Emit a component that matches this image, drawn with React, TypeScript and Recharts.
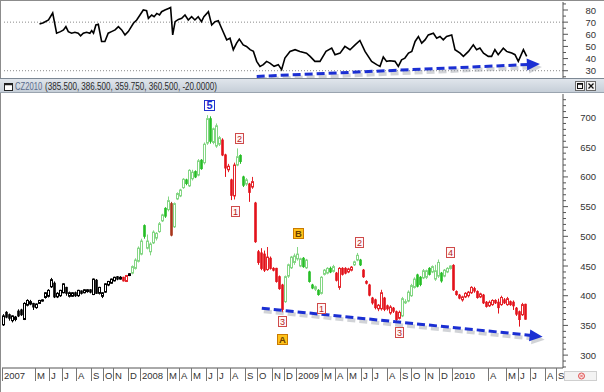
import React from 'react';
import {
  ComposedChart,
  LineChart,
  Line,
  Bar,
  XAxis,
  YAxis,
  ReferenceLine,
  ReferenceDot,
} from 'recharts';

const FONT = '"Liberation Sans", Arial, sans-serif';
const AXIS_X = 563;

// weekly candles of CZ2010, week 0 = mid Feb 2007
const OPEN = [
  351, 372, 368, 358, 360, 374, 376, 360, 384, 386, 387, 380, 387, 391, 397, 399, 415, 421, 398, 400,
  405, 414, 399, 399, 405, 400, 408, 405, 407, 410, 402, 426, 404, 399, 406, 418, 421, 425, 432, 428,
  431, 424, 434, 438, 446, 458, 470, 518, 480, 474, 489, 497, 508, 526, 547, 545, 555, 516, 563, 568,
  582, 595, 585, 597, 609, 603, 628, 624, 657, 698, 658, 652, 655, 662, 637, 612, 595, 568, 620, 636,
  600, 588, 588, 583, 556, 474, 472, 470, 444, 463, 446, 446, 432, 418, 390, 433, 447, 456, 462, 450,
  463, 447, 440, 418, 411, 409, 404, 436, 438, 446, 441, 438, 414, 446, 446, 440, 443, 452, 460, 460,
  443, 424, 418, 396, 393, 378, 378, 396, 383, 371, 379, 373, 362, 366, 388, 391, 400, 414, 435, 431,
  430, 431, 446, 440, 428, 433, 438, 433, 440, 446, 451, 407, 401, 393, 398, 400, 405, 412, 407, 398,
  401, 389, 383, 385, 392, 389, 385, 393, 385, 390, 389, 379, 373, 368, 385.5,
];
const HIGH = [
  369, 374, 370, 367, 366, 377, 378, 389, 394, 393, 388, 387, 393, 394, 406, 411, 430, 424, 406, 410,
  421, 415, 407, 406, 407, 410, 409, 411, 411, 411, 429, 428, 415, 406, 421, 425, 429, 432, 433, 433,
  432, 435, 438, 451, 463, 483, 496, 520, 503, 490, 510, 507, 524, 538, 549, 567, 558, 557, 574, 580,
  598, 597, 613, 612, 611, 630, 630, 658, 704, 702, 683, 690, 669, 665, 639, 622, 597, 624, 648, 638,
  602, 598, 590, 600, 558, 477, 480, 476, 482, 466, 448, 447, 434, 420, 434, 454, 467, 471, 482, 464,
  465, 462, 442, 420, 417, 411, 433, 445, 448, 449, 452, 440, 448, 448, 448, 447, 450, 459, 472, 462,
  445, 426, 420, 398, 395, 386, 410, 398, 385, 384, 381, 375, 375, 398, 394, 409, 420, 431, 437, 433,
  445, 444, 448, 451, 452, 461, 440, 445, 448, 451, 453, 409, 403, 400, 406, 408, 416, 415, 409, 405,
  403, 391, 392, 394, 394, 395, 400, 396, 398, 392, 392, 381, 375, 388, 386.5,
];
const LOW = [
  349, 362, 358, 355, 357, 364, 366, 359, 382, 384, 376, 378, 386, 390, 395, 397, 413, 396, 396, 398,
  404, 400, 397, 398, 398, 398, 402, 404, 405, 404, 401, 403, 402, 396, 405, 416, 420, 424, 426, 427,
  424, 423, 433, 436, 444, 456, 468, 496, 478, 468, 487, 493, 506, 524, 531, 542, 500, 514, 561, 566,
  580, 586, 583, 594, 598, 601, 612, 621, 654, 656, 655, 649, 652, 635, 600, 608, 561, 562, 618, 622,
  583, 585, 558, 580, 489, 452, 443, 440, 442, 444, 441, 422, 410, 372, 388, 430, 445, 452, 459, 448,
  447, 445, 422, 411, 408, 400, 402, 434, 436, 438, 439, 424, 410, 434, 436, 438, 441, 450, 458, 450,
  430, 419, 399, 385, 377, 374, 375, 374, 375, 368, 371, 355, 360, 364, 386, 389, 398, 412, 414, 416,
  428, 428, 434, 438, 425, 430, 422, 431, 438, 444, 408, 400, 394, 390, 396, 397, 403, 405, 395, 396,
  386, 380, 381, 383, 386, 370, 383, 386, 383, 383, 376, 366, 348, 366, 359.75,
];
const CLOSE = [
  366, 364, 362, 366, 364, 366, 368, 387, 392, 390, 381, 386, 392, 393, 405, 409, 427, 398, 404, 409,
  420, 404, 405, 405, 400, 409, 404, 410, 410, 406, 428, 404, 414, 405, 420, 424, 428, 431, 428, 431,
  425, 434, 437, 449, 460, 480, 492, 500, 492, 487, 507, 505, 521, 536, 534, 560, 502, 555, 572, 578,
  596, 589, 611, 608, 600, 627, 614, 655, 698, 660, 681, 686, 666, 637, 615, 618, 569, 620, 634, 626,
  586, 595, 574, 592, 491, 456, 446, 443, 465, 446, 443, 424, 412, 377, 432, 452, 465, 467, 470, 462,
  449, 460, 424, 413, 415, 402, 431, 443, 446, 440, 449, 426, 446, 436, 438, 445, 448, 457, 468, 452,
  432, 421, 401, 388, 380, 384, 405, 377, 378, 381, 374, 360, 372, 395, 390, 406, 417, 428, 416, 419,
  442, 442, 436, 449, 442, 456, 425, 443, 446, 450, 410, 402, 396, 398, 404, 406, 414, 408, 397, 403,
  388, 382, 389, 392, 388, 380, 397, 388, 395, 385, 383, 369, 360, 385, 360.5,
];
// k = plain, r = down wave, g = up wave, d = dark red bar
const TREND =
  'kkkkkkkkkkkkkkkkkkkkkkkkkkkkkkkkkkkkkkkk' +
  'rrk' +
  'ggggggggggggg' +
  'd' +
  'gggggggggggggggg' +
  'rrrrr' +
  'gggg' +
  'rrrrrrrrrrrr' +
  'ggggggggggggggggg' +
  'rrrrrr' +
  'ggg' +
  'rrrrrrrrrrrrr' +
  'ggggggggggggggggg' +
  'rrrrrrrrrrrrrrrrrrrrrrrrr';

// oscillator in the upper pane
const IND_WEEK = [
  12, 13.3, 15, 16.4, 17.7, 19, 20, 20.8, 21.6, 22.7, 23.8, 24.9, 25.7, 26.6, 27.7, 28.8, 29.4, 30, 30.8, 31.6,
  32.7, 33.8, 34.9, 36, 37.2, 38.3, 39.4, 40.5, 41.6, 43.3, 44.4, 45.5, 46.6, 47.7, 48.3, 49.4, 50.2, 51.1, 52, 52.7,
  53.8, 55, 55.7, 56.4, 57.2, 58.3, 59.4, 60.5, 61.6, 62.7, 63.8, 64.9, 66, 66.8, 68.3, 69.4, 70.5, 71.6, 72.7, 74.4,
  75.5, 76.6, 77.7, 78.6, 79.9, 81, 82.2, 83.3, 84.4, 85.5, 86.6, 87.7, 88.8, 90.2, 91.6, 92.7, 93.8, 95.5, 97.2, 98.8,
  101, 102.2, 103.8, 105.5, 107.5, 109.4, 110.5, 112.2, 113.8, 115.5, 117.2, 118.8, 120.5, 122.7, 124.4, 125.5, 126.6, 127.7, 128.8, 130.5,
  131.6, 132.7, 133.8, 135, 136.1, 137.2, 138.3, 139.4, 140.5, 141.6, 143.3, 144.4, 145.5, 146.6, 147.7, 149.4, 150.5, 152.2, 153.3, 155,
  156.6, 157.7, 158.8, 160, 161.6, 162.7, 163.8, 164.9, 166.6, 167.7, 169.4, 170.5, 171.6, 173.3, 174.4,
];
const IND_VALUE = [
  68.5, 69.6, 71.8, 77.5, 60.9, 62.2, 63.6, 66.3, 62.2, 60.9, 61.7, 60.9, 58.7, 60.9, 61.7, 60.9, 63, 60.9, 67.7, 68.2,
  54.1, 54.1, 60.9, 62.2, 63.6, 66.3, 63.6, 59.5, 62.2, 69.1, 71.8, 75.9, 80, 79.4, 73.1, 75.9, 74.5, 77.2, 75.9, 78.6,
  80, 81.3, 82.1, 59.5, 70.4, 72.3, 73.1, 75.9, 71.8, 74.5, 71.8, 74.5, 70.4, 74.5, 78.6, 67.7, 70.4, 71.2, 65, 55.4,
  56.8, 47.3, 52.7, 56, 51.3, 50, 47.3, 45.9, 37.7, 33.6, 35, 37.7, 36.3, 33.6, 35, 30.9, 40.4, 45.9, 47.3, 45.9,
  44.5, 41.8, 37.7, 37.7, 45.9, 48.6, 43.2, 44.5, 50, 47.3, 51.3, 54.9, 45.9, 37.7, 35, 33.6, 41.3, 37.7, 38.2, 37.7,
  33.6, 39, 40.4, 44.5, 45.9, 54.1, 58.2, 52.7, 55.4, 59.5, 60.9, 56.8, 58.2, 55.4, 58.2, 59.5, 47.3, 44.5, 41.8, 45.9,
  51.3, 47.3, 48.6, 44.5, 41.8, 41.8, 47.3, 43.2, 48.6, 45.9, 44.5, 43.2, 37.7, 47.3, 41.8,
];

const X_TICKS = [
  -0.5, 10.8, 15.2, 19.8, 24.2, 29.2, 33.2, 36.8, 41.8, 45.5, 54.8, 58.5, 62.8, 67.5, 71.2, 75.5, 80.5, 84.5, 89.5,
  93.5, 97.5, 106.4, 110.5, 114.7, 119.2, 123.1, 128.1, 132.2, 136.1, 140.8, 145.2, 149.7, 161.5, 167.7, 171.5,
  175.5, 180.5, 184.4,
];
const X_LABELS = [
  '2007', 'M', 'J', 'J', 'A', 'S', 'O', 'N', 'D', '2008', 'M', 'A', 'M', 'J', 'J', 'A', 'S', 'O', 'N', 'D',
  '2009', 'M', 'A', 'M', 'J', 'J', 'A', 'S', 'O', 'N', 'D', '2010', 'A', 'M', 'J', 'J', 'A', 'S',
];
const PRICE_TICKS = [
  280, 290, 300, 310, 320, 330, 340, 350, 360, 370, 380, 390, 400, 410, 420, 430, 440, 450, 460, 470, 480, 490,
  500, 510, 520, 530, 540, 550, 560, 570, 580, 590, 600, 610, 620, 630, 640, 650, 660, 670, 680, 690, 700, 710,
  720, 730,
];
const PRICE_LABELS = [300, 350, 400, 450, 500, 550, 600, 650, 700];
const IND_TICKS = [25, 30, 35, 40, 45, 50, 55, 60, 65, 70, 75, 80, 85];
const IND_LABELS = [30, 40, 50, 60, 70, 80];

// wave count tags
const WAVE_WEEK = [68.8, 78.5, 77.3, 98.2, 93, 93, 106, 118.8, 132, 149];
const WAVE_PRICE = [721, 665.5, 541, 504, 356.6, 327, 378.5, 490.4, 338, 472.7];
const WAVE_TEXT = ['5', '2', '1', 'B', '3', 'A', '1', '2', '3', '4'];
const WAVE_KIND = ['blue', 'red', 'red', 'gold', 'red', 'gold', 'red', 'red', 'red', 'red'];

const PRICE_TREND = [{ x: 86.1, y: 378.8 }, { x: 179.7, y: 331 }];
const IND_TREND = [{ x: 84.4, y: 25.3 }, { x: 178.8, y: 35.6 }];

const PAL: Record<string, { up: string; down: string }> = {
  k: { up: '#000000', down: '#000000' },
  r: { up: '#e4262c', down: '#e3121b' },
  g: { up: '#84d684', down: '#25bd25' },
  d: { up: '#a8361c', down: '#a8361c' },
};

const TAG_STYLE: Record<string, { fill: string; stroke: string; text: string; w: number; size: number; weight: number }> = {
  blue: { fill: '#ffffff', stroke: '#2233cc', text: '#1a2bd0', w: 11, size: 11, weight: 700 },
  red: { fill: '#fff6f6', stroke: '#cf4a4a', text: '#b52424', w: 9, size: 9, weight: 400 },
  gold: { fill: '#ffc21a', stroke: '#c97a00', text: '#6b3d00', w: 11, size: 9.5, weight: 700 },
};

const candles = OPEN.map((o, i) => ({
  i,
  o,
  h: HIGH[i],
  l: LOW[i],
  c: CLOSE[i],
  t: TREND[i],
  range: [LOW[i], HIGH[i]],
}));

const indicator = IND_WEEK.map((w, i) => ({ w, v: IND_VALUE[i] }));

function Candle(props: any) {
  const { x, y, width, height, payload } = props;
  if (x == null || !payload) return null;
  const { o, h, l, c, t } = payload;
  const cx = Math.floor(x + width / 2) + 0.5;
  const k = h > l ? height / (h - l) : 0;
  const yo = y + (h - o) * k;
  const yc = y + (h - c) * k;
  const top = Math.min(yo, yc);
  const bh = Math.max(Math.abs(yo - yc), 1);
  const up = c >= o;
  const col = up ? PAL[t].up : PAL[t].down;
  return (
    <g>
      <line x1={cx} x2={cx} y1={y} y2={y + height} stroke={col} strokeWidth={1} />
      {up ? (
        <rect x={cx - 1} y={top} width={2} height={bh} fill="#ffffff" stroke={col} strokeWidth={1} />
      ) : (
        <rect x={cx - 1.3} y={top - 0.5} width={2.6} height={bh + 1} fill={col} />
      )}
    </g>
  );
}

function Arrow(props: any) {
  const { x1, y1, x2, y2 } = props;
  if (x1 == null) return null;
  const ang = Math.atan2(y2 - y1, x2 - x1);
  const len = 13;
  const half = 6;
  const bx = x2 - len * Math.cos(ang);
  const by = y2 - len * Math.sin(ang);
  const px = -Math.sin(ang) * half;
  const py = Math.cos(ang) * half;
  const head = `${x2},${y2} ${bx + px},${by + py} ${bx - px},${by - py}`;
  return (
    <g>
      <g transform="translate(2,3)" opacity={0.45}>
        <line x1={x1} y1={y1} x2={bx} y2={by} stroke="#9aa0a8" strokeWidth={4} strokeDasharray="8 4" />
        <polygon points={head} fill="#9aa0a8" />
      </g>
      <line x1={x1} y1={y1} x2={bx + 2} y2={by} stroke="#1b2fd3" strokeWidth={3} strokeDasharray="8 4" />
      <polygon points={head} fill="#1b2fd3" />
    </g>
  );
}

function WaveTag({ cx, cy, text, kind }: { cx: number; cy: number; text: string; kind: string }) {
  const s = TAG_STYLE[kind];
  const h = 11;
  const left = Math.round(cx - s.w / 2) + 0.5;
  const top = Math.round(cy - h / 2) + 0.5;
  return (
    <g>
      <rect x={left} y={top} width={s.w - 1} height={h - 1} fill={s.fill} stroke={s.stroke} strokeWidth={1} />
      <text
        x={left + (s.w - 1) / 2}
        y={top + 8.5}
        textAnchor="middle"
        fontSize={s.size}
        fontWeight={s.weight}
        fill={s.text}
        fontFamily={FONT}
      >
        {text}
      </text>
    </g>
  );
}

function YTick(props: any, labels: number[]) {
  const { y, payload } = props;
  const major = labels.includes(payload.value);
  return (
    <g>
      <line x1={AXIS_X} x2={AXIS_X + (major ? 5 : 3)} y1={y} y2={y} stroke="#555" />
      {major && (
        <text x={596} y={y + 3.5} textAnchor="end" fontSize={9.5} fill="#333" fontFamily={FONT}>
          {payload.value}
        </text>
      )}
    </g>
  );
}

function XTick(props: any) {
  const { x, y, payload } = props;
  const idx = X_TICKS.indexOf(payload.value);
  const px = Math.floor(x) + 0.5;
  return (
    <g>
      <line x1={px} x2={px} y1={y} y2={y + 13} stroke="#777" />
      <text x={px + 1.5} y={y + 11} fontSize={9.5} fill="#333" fontFamily={FONT}>
        {X_LABELS[idx]}
      </text>
    </g>
  );
}

function Chrome() {
  return (
    <svg width={604} height={392} style={{ position: 'absolute', left: 0, top: 0, pointerEvents: 'none' }}>
      <defs>
        <linearGradient id="bar" x1="0" y1="0" x2="0" y2="1">
          <stop offset="0" stopColor="#e2e7ed" />
          <stop offset="1" stopColor="#c4cdd7" />
        </linearGradient>
      </defs>
      <line x1={0.5} x2={0.5} y1={0} y2={392} stroke="#8c8c8c" />
      <line x1={0} x2={604} y1={0.5} y2={0.5} stroke="#8c8c8c" />
      <rect x={0} y={78} width={604} height={15} fill="url(#bar)" />
      <line x1={0} x2={604} y1={78.5} y2={78.5} stroke="#7d8894" />
      <line x1={0} x2={604} y1={92.5} y2={92.5} stroke="#9aa4af" />
      <rect x={4.5} y={83.5} width={8} height={7} fill="#ffffff" stroke="#222" />
      <line x1={4.5} x2={12.5} y1={84.5} y2={84.5} stroke="#222" strokeWidth={1.5} />
      <text transform="translate(15,90) scale(0.73,1)" fontSize={10.5} fontFamily={FONT} fill="#5b6b8c">
        CZ2010
      </text>
      <text transform="translate(45,90) scale(0.77,1)" fontSize={10.5} fontFamily={FONT} fill="#2a2a2a">
        (385.500, 386.500, 359.750, 360.500, -20.0000)
      </text>
      <rect x={575.5} y={81.5} width={9} height={9} fill="#f4f4f4" stroke="#6a6a6a" />
      <rect x={577.5} y={83.5} width={5} height={5} fill="none" stroke="#111" />
      <line x1={577.5} x2={582.5} y1={84} y2={84} stroke="#111" strokeWidth={1.5} />
      <rect x={586.5} y={81.5} width={9} height={9} fill="#f4f4f4" stroke="#6a6a6a" />
      <path d="M588.5 83.5 L593.5 88.5 M593.5 83.5 L588.5 88.5" stroke="#111" strokeWidth={1.3} />
      <rect x={564.5} y={371.5} width={32} height={9} fill="#f3f3f3" stroke="#cfcfcf" />
      <circle cx={581.5} cy={376} r={3} fill="#fbe3e3" stroke="#e05656" />
      <path d="M580 374.5 L583 377.5 M583 374.5 L580 377.5" stroke="#e05656" strokeWidth={0.8} />
    </svg>
  );
}

export default function App() {
  return (
    <div
      style={{
        position: 'absolute',
        left: 0,
        top: 0,
        width: 604,
        height: 392,
        background: '#ffffff',
        overflow: 'hidden',
        fontFamily: FONT,
      }}
    >
      <div style={{ position: 'absolute', left: 0, top: 0 }}>
        <LineChart width={604} height={80} data={indicator} margin={{ top: 2, right: 0, bottom: 2, left: 2 }}>
          <XAxis dataKey="w" type="number" domain={[-0.5, 186.5]} hide allowDataOverflow />
          <YAxis
            orientation="right"
            width={41}
            domain={[24, 86.6]}
            ticks={IND_TICKS}
            interval={0}
            allowDataOverflow
            tickSize={0}
            tickMargin={0}
            tickLine={false}
            axisLine={{ stroke: '#555' }}
            tick={(p: any) => YTick(p, IND_LABELS)}
          />
          <ReferenceLine y={70} stroke="#8a8a8a" strokeDasharray="1 2" />
          <ReferenceLine y={30} stroke="#8a8a8a" strokeDasharray="1 2" />
          <Line
            dataKey="v"
            stroke="#000000"
            strokeWidth={1.6}
            dot={false}
            activeDot={false}
            isAnimationActive={false}
          />
          <ReferenceLine segment={IND_TREND} stroke="#1b2fd3" shape={Arrow} ifOverflow="visible" />
        </LineChart>
      </div>
      <div style={{ position: 'absolute', left: 0, top: 93 }}>
        <ComposedChart width={604} height={299} data={candles} margin={{ top: 1, right: 0, bottom: 0, left: 2 }}>
          <XAxis
            dataKey="i"
            type="number"
            domain={[-0.5, 186.5]}
            ticks={X_TICKS}
            interval={0}
            allowDataOverflow
            height={24}
            tickSize={0}
            tickMargin={0}
            tickLine={false}
            axisLine={{ stroke: '#555' }}
            tick={XTick}
          />
          <YAxis
            orientation="right"
            width={41}
            domain={[278.3, 739.6]}
            ticks={PRICE_TICKS}
            interval={0}
            allowDataOverflow
            tickSize={0}
            tickMargin={0}
            tickLine={false}
            axisLine={{ stroke: '#555' }}
            tick={(p: any) => YTick(p, PRICE_LABELS)}
          />
          <Bar dataKey="range" barSize={3} shape={Candle} isAnimationActive={false} />
          <ReferenceLine segment={PRICE_TREND} stroke="#1b2fd3" shape={Arrow} ifOverflow="visible" />
          {WAVE_TEXT.map((t, k) => (
            <ReferenceDot
              key={k}
              x={WAVE_WEEK[k]}
              y={WAVE_PRICE[k]}
              r={5}
              ifOverflow="visible"
              shape={(p: any) => <WaveTag cx={p.cx} cy={p.cy} text={t} kind={WAVE_KIND[k]} />}
            />
          ))}
        </ComposedChart>
      </div>
      <Chrome />
    </div>
  );
}
